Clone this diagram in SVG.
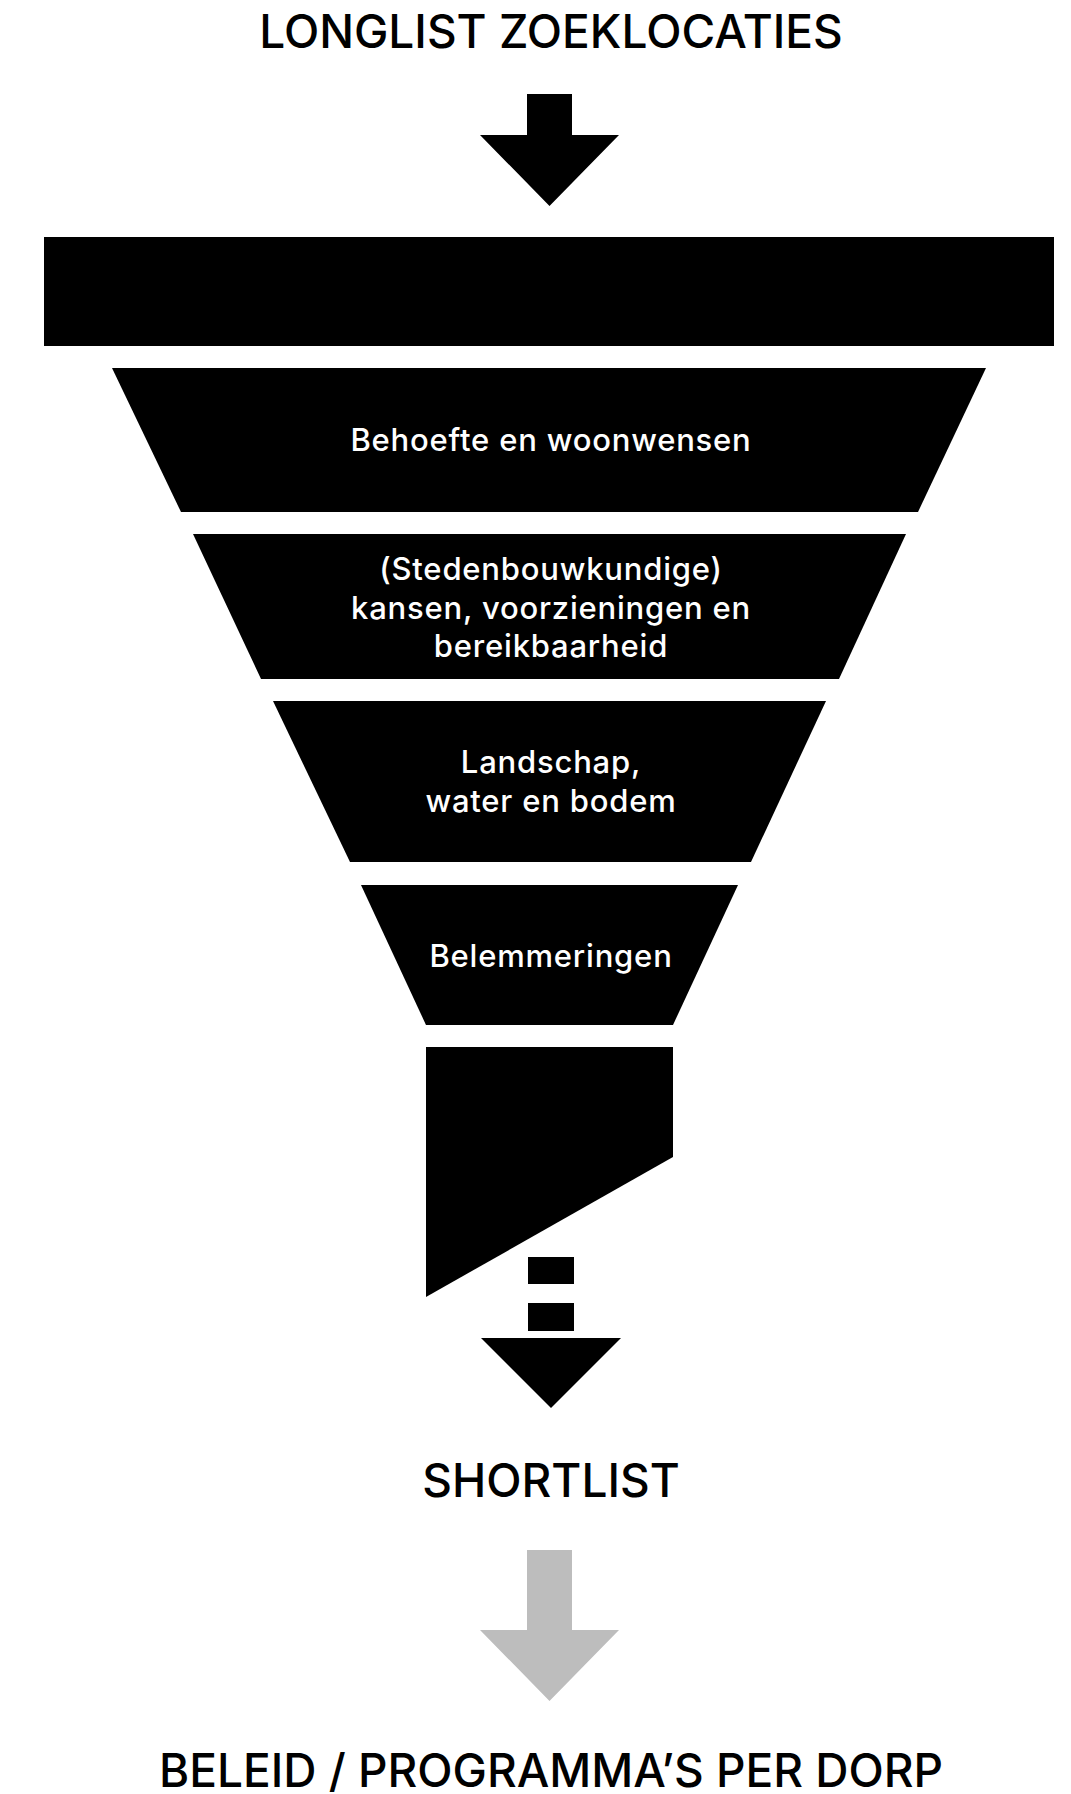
<svg xmlns="http://www.w3.org/2000/svg" width="1071" height="1794" viewBox="0 0 1071 1794">
<style>
.h{font-family:Inter,"Liberation Sans",sans-serif;font-size:46px;font-weight:500;fill:#000;text-anchor:middle}
.t{font-family:Inter,"Liberation Sans",sans-serif;font-size:31px;font-weight:500;letter-spacing:0.8px;fill:#fff;text-anchor:middle}
.k{fill:#000}
</style>
<rect width="1071" height="1794" fill="#fff"/>
<g id="title"><text class="h" x="551" y="48">LONGLIST ZOEKLOCATIES</text></g>
<g id="connectors">
<polygon id="arrow-top" class="k" points="527,94 572,94 572,135 619,135 549.5,206 480,135 527,135"/>
<g id="arrow-dashed">
<rect class="k" x="528" y="1257" width="46" height="27"/>
<rect class="k" x="528" y="1303" width="46" height="28"/>
<polygon class="k" points="481,1338 621,1338 551,1408"/>
</g>
<polygon id="arrow-gray" fill="#bdbdbd" points="527,1550 572,1550 572,1630 619,1630 549.5,1701 480,1630 527,1630"/>
</g>
<g id="bar"><rect class="k" x="44" y="237" width="1010" height="109"/></g>
<g id="filter1"><polygon class="k" points="112,368 986,368 918,512 181,512"/><text class="t" x="551" y="451">Behoefte en woonwensen</text></g>
<g id="filter2"><polygon class="k" points="193,534 906,534 839,679 261,679"/>
<text class="t" x="551" y="580">(Stedenbouwkundige)</text>
<text class="t" x="551" y="619">kansen, voorzieningen en</text>
<text class="t" x="551" y="657">bereikbaarheid</text></g>
<g id="filter3"><polygon class="k" points="273,701 826,701 751,862 350,862"/>
<text class="t" x="551" y="773">Landschap,</text>
<text class="t" x="551" y="812">water en bodem</text></g>
<g id="filter4"><polygon class="k" points="361,885 738,885 673,1025 426,1025"/>
<text class="t" x="551" y="967">Belemmeringen</text></g>
<g id="result"><polygon class="k" points="426,1047 673,1047 673,1157 426,1297"/></g>
<g id="shortlist"><text class="h" x="551" y="1497">SHORTLIST</text></g>
<g id="beleid"><text class="h" x="551" y="1787">BELEID / PROGRAMMA’S PER DORP</text></g>
</svg>
